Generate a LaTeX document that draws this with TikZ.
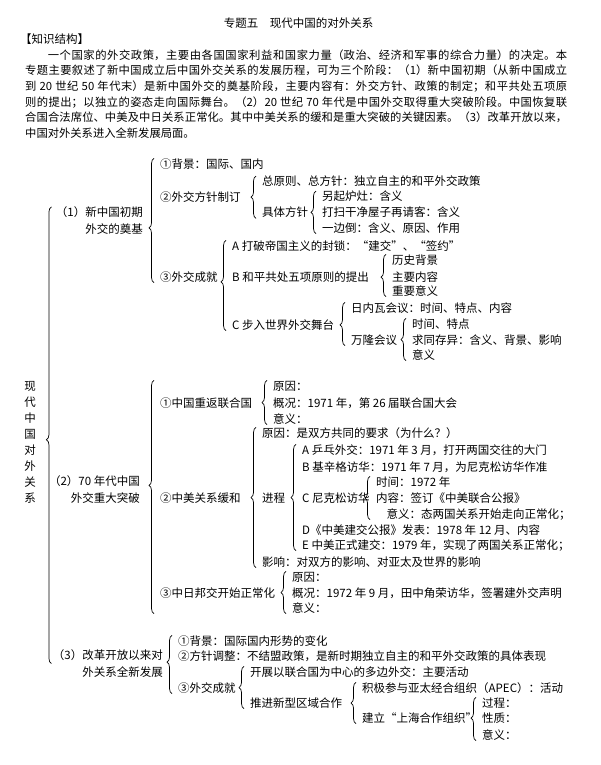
\documentclass[tikz,border=0pt]{standalone}
\usepackage{fontspec}
\setmainfont{Noto Sans CJK SC}
\XeTeXlinebreaklocale "zh"
\XeTeXlinebreakskip = 0pt plus 1pt
\usetikzlibrary{decorations.pathreplacing,calc}

\begin{document}
\begin{tikzpicture}[
  x=1pt, y=-1pt,
  every node/.style={font=\fontsize{11.5}{16}\selectfont},
  item/.style={anchor=west,inner sep=0pt,text height=9.6pt,text depth=1.2pt},
  stage/.style={anchor=east,inner sep=0pt,align=right,font=\fontsize{11.5}{17}\selectfont},
  brc/.style={decorate,decoration={brace,amplitude=5pt,aspect=#1},line width=0.7pt},
  brc/.default=0.5
]
  \fill[white] (0,0) rectangle (600,765);
  \useasboundingbox (0,0) rectangle (600,765);

  % Header
  \node (title) at (298.5,23) {专题五　现代中国的对外关系};
  \node[item] (kjjg) at (20,39) {【知识结构】};
  \node[anchor=north west,inner sep=0pt,text width=542pt,align=justify,
        font=\fontsize{11.3}{15.6}\selectfont] (intro) at (25,49.5)
  {\hspace*{2em}一个国家的外交政策，主要由各国国家利益和国家力量（政治、经济和军事的综合力量）的决定。本\linebreak
   专题主要叙述了新中国成立后中国外交关系的发展历程，可为三个阶段：（1）新中国初期（从新中国成立\linebreak
   到 20 世纪 50 年代末）是新中国外交的奠基阶段，主要内容有：外交方针、政策的制定；和平共处五项原\linebreak
   则的提出；以独立的姿态走向国际舞台。（2）20 世纪 70 年代是中国外交取得重大突破阶段。中国恢复联\linebreak
   合国合法席位、中美及中日关系正常化。其中中美关系的缓和是重大突破的关键因素。（3）改革开放以来，\linebreak
   中国对外关系进入全新发展局面。};

  % Root
  \node[inner sep=0pt,align=center] (root) at (30,442.5) {现\\代\\中\\国\\对\\外\\关\\系};

  % (1)
  \node[stage] (s1) at (143,221) {（1）新中国初期\\外交的奠基};
  \node[item] (a1) at (160,164) {①背景：国际、国内};
  \node[item] (a2) at (160,197) {②外交方针制订};
  \node[item] (a3) at (160,277) {③外交成就};
  \node[item] (a2a) at (262,181.7) {总原则、总方针：独立自主的和平外交政策};
  \node[item] (a2b) at (262,212.7) {具体方针};
  \node[item] (a2b1) at (322,196.7) {另起炉灶：含义};
  \node[item] (a2b2) at (322,212.7) {打扫干净屋子再请客：含义};
  \node[item] (a2b3) at (322,228) {一边倒：含义、原因、作用};
  \node[item] (a3a) at (232,246) {A 打破帝国主义的封锁：“建交”、“签约”};
  \node[item] (a3b) at (232,277) {B 和平共处五项原则的提出};
  \node[item] (a3c) at (232,325) {C 步入世界外交舞台};
  \node[item] (a3b1) at (392,260) {历史背景};
  \node[item] (a3b2) at (392,277) {主要内容};
  \node[item] (a3b3) at (392,291) {重要意义};
  \node[item] (a3c1) at (351,308) {日内瓦会议：时间、特点、内容};
  \node[item] (a3c2) at (351,340) {万隆会议};
  \node[item] (a3c21) at (412,324) {时间、特点};
  \node[item] (a3c22) at (412,340) {求同存异：含义、背景、影响};
  \node[item] (a3c23) at (412,355) {意义};

  % (2)
  \node[stage] (s2) at (140,490) {（2）70 年代中国\\外交重大突破};
  \node[item] (b1) at (160,403) {①中国重返联合国};
  \node[item] (b2) at (160,498) {②中美关系缓和};
  \node[item] (b3) at (160,593) {③中日邦交开始正常化};
  \node[item] (b1a) at (273,386) {原因：};
  \node[item] (b1b) at (273,403) {概况：1971 年，第 26 届联合国大会};
  \node[item] (b1c) at (273,419) {意义：};
  \node[item] (b2a) at (262,433) {原因：是双方共同的要求（为什么？）};
  \node[item] (b2b) at (262,498) {进程};
  \node[item] (b2c) at (262,562) {影响：对双方的影响、对亚太及世界的影响};
  \node[item] (pA) at (302,450) {A 乒乓外交：1971 年 3 月，打开两国交往的大门};
  \node[item] (pB) at (302,467) {B 基辛格访华：1971 年 7 月，为尼克松访华作准};
  \node[item] (pC) at (302,498) {C 尼克松访华};
  \node[item] (pD) at (302,530) {D《中美建交公报》发表：1978 年 12 月、内容};
  \node[item] (pE) at (302,545) {E 中美正式建交：1979 年，实现了两国关系正常化；};
  \node[item] (pC1) at (376,482) {时间：1972 年};
  \node[item] (pC2) at (376,498) {内容：签订《中美联合公报》};
  \node[item] (pC3) at (376,514) {\hspace*{0.9em}意义：态两国关系开始走向正常化；};
  \node[item] (b3a) at (292,577) {原因：};
  \node[item] (b3b) at (292,593) {概况：1972 年 9 月，田中角荣访华，签署建外交声明};
  \node[item] (b3c) at (292,608) {意义：};

  % (3)
  \node[stage] (s3) at (163,663.5) {（3）改革开放以来对\\外关系全新发展};
  \node[item] (c1) at (178,641) {①背景：国际国内形势的变化};
  \node[item] (c2) at (178,656) {②方针调整：不结盟政策，是新时期独立自主的和平外交政策的具体表现};
  \node[item] (c3) at (178,688) {③外交成就};
  \node[item] (c3a) at (250,672) {开展以联合国为中心的多边外交：主要活动};
  \node[item] (c3b) at (250,703) {推进新型区域合作};
  \node[item] (c3b1) at (362,688) {积极参与亚太经合组织（APEC）：活动};
  \node[item] (c3b2) at (362,718) {建立“上海合作组织”};
  \node[item] (c3b21) at (482,703) {过程：};
  \node[item] (c3b22) at (482,718) {性质：};
  \node[item] (c3b23) at (482,735) {意义：};

  % Braces
  \draw[brc=0.49] ($(root.east |- s3.west)+(15.5,0)$) -- ($(root.east |- s1.north)+(15.5,0)$);
  \draw[brc=0.44] ($(a3.south west)+(-6,0)$) -- ($(a1.north west)+(-6,0)$);
  \draw[brc] ($(a2b.south west)+(-6,0)$) -- ($(a2a.north west)+(-6,0)$);
  \draw[brc] ($(a2b3.south west)+(-6,0)$) -- ($(a2b1.north west)+(-6,0)$);
  \draw[brc=0.54] ($(a3c.south west)+(-6,0)$) -- ($(a3a.north west)+(-6,0)$);
  \draw[brc=0.46] ($(a3b3.south west)+(-6,0)$) -- ($(a3b1.north west)+(-6,0)$);
  \draw[brc=0.48] ($(a3c2.south west)+(-6,0)$) -- ($(a3c1.north west)+(-6,0)$);
  \draw[brc] ($(a3c23.south west)+(-6,0)$) -- ($(a3c21.north west)+(-6,0)$);
  \draw[brc=0.55] ($(b1.west |- b3c.south)+(-6,0)$) -- ($(b1.west |- b1a.north)+(-6,0)$);
  \draw[brc] ($(b1c.south west)+(-6,0)$) -- ($(b1a.north west)+(-6,0)$);
  \draw[brc] ($(b2c.south west)+(-6,0)$) -- ($(b2a.north west)+(-6,0)$);
  \draw[brc] ($(pE.south west)+(-6,0)$) -- ($(pA.north west)+(-6,0)$);
  \draw[brc] ($(pC3.south west)+(-6,0)$) -- ($(pC1.north west)+(-6,0)$);
  \draw[brc] ($(b3c.south west)+(-6,0)$) -- ($(b3a.north west)+(-6,0)$);
  \draw[brc=0.54] ($(c3.south west)+(-6,0)$) -- ($(c1.north west)+(-6,0)$);
  \draw[brc] ($(c3b.south west)+(-6,0)$) -- ($(c3a.north west)+(-6,0)$);
  \draw[brc] ($(c3b2.south west)+(-6,0)$) -- ($(c3b1.north west)+(-6,0)$);
  \draw[brc=0.52] ($(c3b23.south west)+(-6,0)$) -- ($(c3b21.north west)+(-6,0)$);
\end{tikzpicture}
\end{document}
